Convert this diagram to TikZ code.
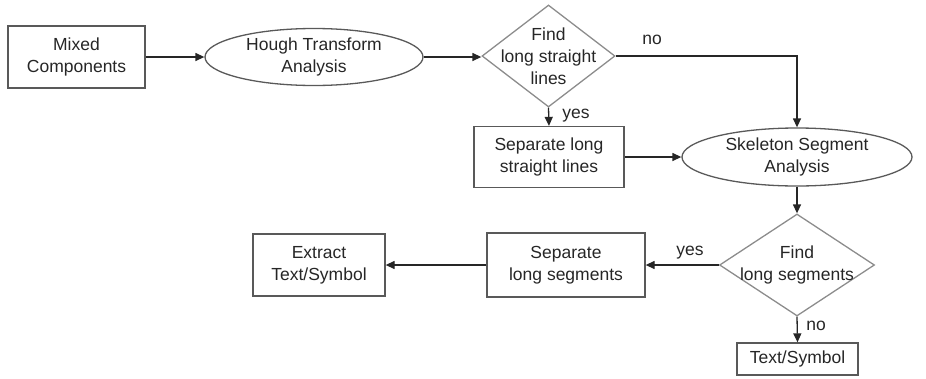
\documentclass[tikz,border=0pt]{standalone}
\usepackage{fontspec}
\setmainfont{Liberation Sans}
\usetikzlibrary{shapes.geometric,arrows.meta}
\begin{document}
\begin{tikzpicture}[x=1pt,y=-1pt,
  font=\fontsize{17.5}{22}\selectfont,
  every node/.style={text=black!85},
  txt/.style={align=center,inner sep=0pt,text=black!85},
  procbox/.style={draw=black!65,line width=1.3pt,rectangle,align=center,inner sep=0pt},
  oval/.style={draw=black!65,line width=1.3pt,ellipse,inner sep=0pt},
  decide/.style={draw=black!45,line width=1.3pt,diamond,inner sep=0pt},
  flow/.style={draw=black!85,line width=1.3pt,-{Triangle[length=9pt,width=8pt]}},
  tag/.style={inner sep=0pt,text=black!85}]
\useasboundingbox (0,0) rectangle (926,378);

% process steps
\node[procbox,minimum width=137,minimum height=62] (mix) at (76.5,57) {Mixed\\Components};
\node[oval,minimum width=218,minimum height=57,
  label={[txt]center:Hough Transform\\Analysis}] (hough) at (314,57) {};
\node[decide,minimum width=133,minimum height=102,
  label={[txt]center:Find\\long straight\\lines}] (find1) at (548.5,56) {};
\node[procbox,minimum width=150,minimum height=61] (seplines) at (549,157) {Separate long\\straight lines};
\node[oval,minimum width=230,minimum height=58,
  label={[txt]center:Skeleton Segment\\Analysis}] (skel) at (797,157) {};
\node[decide,minimum width=155,minimum height=102,
  label={[txt]center:Find\\long segments}] (find2) at (797,265) {};
\node[procbox,minimum width=158,minimum height=64] (sepseg) at (566,265) {Separate\\long segments};
\node[procbox,minimum width=132,minimum height=62] (extract) at (319,265) {Extract\\Text/Symbol};
\node[procbox,minimum width=121,minimum height=32] (textsym) at (797.5,359) {Text/Symbol};

% connectors
\draw[flow] (mix.east) -- (hough.west);
\draw[flow] (hough.east) -- (hough.east -| find1.west);
\draw[flow] (find1.east) -| (skel.north);
\draw[flow] (find1.south) -- (seplines.north);
\draw[flow] (seplines.east) -- (skel.west);
\draw[flow] (skel.south) -- (find2.north);
\draw[flow] (find2.west) -- (sepseg.east);
\draw[flow] (sepseg.west) -- (extract.east);
\draw[flow] (find2.south) -- (textsym.north);

% branch labels
\node[tag] (no1) at (652,40) {no};
\node[tag] (yes1) at (576,116) {yes};
\node[tag] (yes2) at (690,253) {yes};
\node[tag] (no2) at (816,326) {no};
\end{tikzpicture}
\end{document}
